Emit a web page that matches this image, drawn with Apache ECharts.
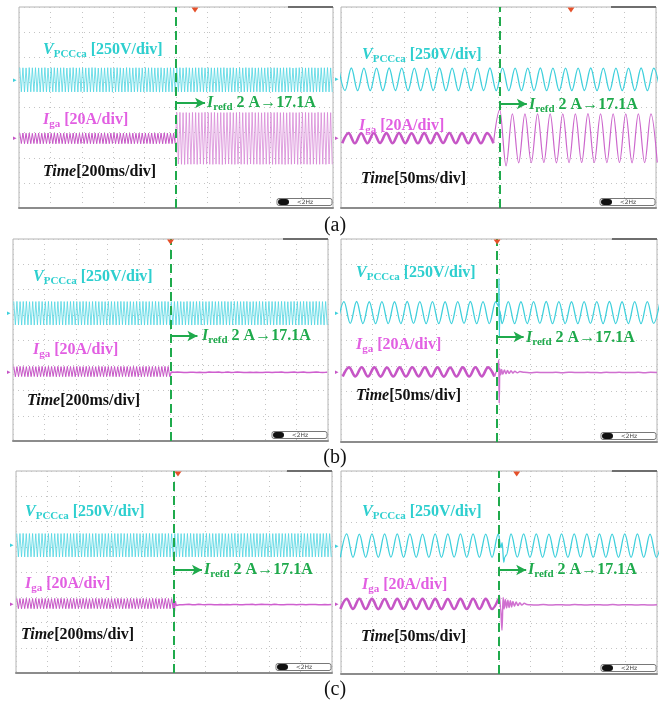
<!DOCTYPE html>
<html><head><meta charset="utf-8">
<script src="https://cdn.jsdelivr.net/npm/echarts@6/dist/echarts.min.js"></script>
<style>html,body{margin:0;padding:0;background:#fff}#c{width:669px;height:702px}</style>
</head><body><div id="c"></div><script>
// ================= DATA =================
// Physical units: voltage in V (250 V/div), current in A (20 A/div), time in ms.
// Waveforms are given as successive extrema (one per half cycle, 10 ms apart).
const panelLetters = ['(a)', '(b)', '(c)'];
const timeBaseLabels = ['[200ms/div]', '[50ms/div]'];
const vLabelParts = ['V', 'PCCca', ' [250V/div]'];
const iLabelParts = ['I', 'ga', ' [20A/div]'];
const refLabelParts = ['I', 'refd', ' 2 A\u219217.1A'];
const stepTimes = [1000, 252, 1000, 247, 1000, 250];   // reference step instant as read in each panel (ms)

// ---- (a) left, 200 ms/div, extrema from t = 5 ms every 10 ms
const aL_V = [
121,-119,120,-121,119,-120,122,-119,120,-118,121,-120,119,-121,120,-119,122,-120,118,-121,
120,-119,121,-120,119,-122,120,-119,121,-120,118,-121,120,-119,122,-120,119,-121,120,-118,
121,-120,119,-121,120,-119,122,-120,121,-119,118,-120,120,-121,119,-120,121,-119,120,-122,
119,-120,121,-119,120,-121,118,-120,122,-119,120,-121,119,-120,121,-118,120,-121,119,-120,
122,-119,120,-120,121,-121,119,-119,120,-122,121,-120,118,-121,120,-119,121,-120,119,-121,
120,-119,121,-121,119,-120,122,-120,120,-119,119,-121,121,-120,120,-118,122,-121,119,-120,
121,-119,120,-122,119,-120,121,-119,120,-121,122,-120,119,-119,120,-121,121,-120,118,-119,
120,-121,119,-120,122,-119,120,-121,121,-120,119,-118,120,-121,121,-119,119,-120,122,-121,
119,-120,121,-119,120,-122,119,-120,121,-121,120,-119,122,-120,118,-121,120,-119,121,-120,
121,-120,119,-121,120,-119,121,-122,120,-119,119,-120,121,-121,120,-119,122,-120,119,-121];
const aL_Ibefore = [
4.2,-4.1,4.3,-4.2,4.1,-4.3,4.2,-4.2,4.0,-4.1,4.3,-4.2,4.2,-4.3,4.1,-4.2,4.2,-4.1,4.3,-4.2,
4.1,-4.2,4.2,-4.3,4.3,-4.1,4.2,-4.2,4.1,-4.3,4.2,-4.1,4.0,-4.2,4.3,-4.2,4.2,-4.3,4.1,-4.1,
4.2,-4.2,4.3,-4.1,4.1,-4.2,4.2,-4.3,4.2,-4.2,4.1,-4.1,4.3,-4.2,4.2,-4.3,4.0,-4.2,4.2,-4.1,
4.3,-4.2,4.1,-4.3,4.2,-4.2,4.2,-4.1,4.3,-4.2,4.1,-4.3,4.2,-4.2,4.1,-4.1,4.2,-4.3,4.3,-4.2,
4.2,-4.1,4.1,-4.2,4.3,-4.3,4.2,-4.2,4.1,-4.1,4.2,-4.3,4.3,-4.2,4.2,-4.1,4.1,-4.2,4.2,-4.2];
const aL_Iafter = [
20.6,-20.4,20.7,-20.6,20.5,-20.8,20.6,-20.5,20.4,-20.6,20.7,-20.5,20.6,-20.7,20.5,-20.4,20.6,-20.6,20.8,-20.5,
20.5,-20.6,20.6,-20.7,20.7,-20.5,20.4,-20.6,20.6,-20.8,20.5,-20.5,20.6,-20.4,20.7,-20.6,20.5,-20.7,20.6,-20.5,
20.7,-20.6,20.5,-20.5,20.6,-20.7,20.6,-20.4,20.8,-20.6,20.5,-20.5,20.6,-20.7,20.4,-20.6,20.7,-20.5,20.6,-20.6,
20.5,-20.7,20.6,-20.6,20.7,-20.5,20.5,-20.6,20.6,-20.8,20.4,-20.5,20.7,-20.6,20.6,-20.4,20.5,-20.7,20.6,-20.6,
20.6,-20.5,20.7,-20.6,20.5,-20.7,20.6,-20.5,20.4,-20.6,20.8,-20.6,20.5,-20.5,20.6,-20.7,20.7,-20.4,20.5,-20.6];

// ---- (a) right, 50 ms/div
const aR_V = [  // from t = -3.6 ms
112,-111,113,-112,111,-113,112,-112,113,-111,112,-112,111,-113,112,-111,113,-112,112,-112,111,-113,112,-111,113,-112,
112,-112,111,-113,112,-111,113,-112,112,-112,111,-113,112,-111,113,-112,112,-112,111,-113,112,-111,113,-112,112,-112];
const aR_Ibefore = [  // from t = 2 ms
-4.0,4.0,-4.1,3.9,-4.0,4.1,-3.9,4.0,-4.0,4.1,-4.0,3.9,-4.1,4.0,-4.0,4.0,-3.9,4.1,-4.0,4.0,-4.1,3.9,-4.0,4.0,-4.0];
const aR_Iafter = [   // from t = 252 ms
22.5,-22.0,19.4,-19.6,19.3,-19.5,19.4,-19.4,19.3,-19.6,19.4,-19.5,19.3,-19.4,19.5,-19.4,19.3,-19.5,19.4,-19.4,19.3,-19.6,19.4,-19.5,19.3,-19.4];

// ---- (b) left, 200 ms/div
const bL_V = [
116,-115,117,-116,115,-117,116,-115,117,-116,114,-116,116,-117,115,-115,117,-116,116,-114,
115,-116,117,-115,116,-117,114,-116,116,-115,117,-116,115,-117,116,-114,116,-116,117,-115,
116,-117,115,-116,117,-115,116,-116,114,-117,116,-115,117,-116,115,-116,116,-117,115,-115,
117,-116,116,-115,115,-117,116,-116,117,-114,116,-116,115,-117,116,-115,114,-116,117,-116,
116,-115,117,-117,115,-116,116,-115,116,-116,117,-117,115,-115,116,-116,117,-114,115,-117,
115,-116,116,-117,117,-115,116,-116,114,-116,117,-115,116,-117,115,-116,116,-115,117,-116,
116,-117,115,-115,116,-116,117,-116,115,-117,116,-114,116,-116,117,-115,115,-117,116,-116,
117,-115,116,-116,115,-117,116,-115,117,-116,114,-116,116,-117,115,-115,117,-116,116,-115,
115,-116,117,-115,116,-117,116,-116,115,-115,117,-116,116,-117,114,-116,116,-115,117,-116,
116,-117,115,-116,117,-115,116,-116,115,-117,116,-115,117,-116,116,-114,115,-117,116,-116];
const bL_Ibefore = [
4.0,-4.1,3.9,-4.0,4.1,-3.9,4.0,-4.0,3.9,-4.1,4.1,-4.0,4.0,-3.9,3.9,-4.1,4.0,-4.0,4.1,-3.9,
3.9,-4.0,4.1,-4.1,4.0,-3.9,4.0,-4.1,4.1,-4.0,3.9,-4.0,4.0,-4.1,4.1,-3.9,4.0,-4.0,3.9,-4.1,
4.1,-4.0,4.0,-3.9,3.9,-4.1,4.1,-4.0,4.0,-4.0,4.0,-4.1,3.9,-4.0,4.1,-3.9,4.0,-4.1,4.0,-4.0,
4.0,-3.9,4.1,-4.0,4.0,-4.1,3.9,-4.0,4.1,-4.0,4.0,-3.9,4.0,-4.1,3.9,-4.0,4.1,-4.0,4.0,-4.1,
3.9,-4.1,4.0,-4.0,4.1,-3.9,4.0,-4.1,4.0,-4.0,4.1,-4.0,3.9,-4.1,4.0,-3.9,4.1,-4.0,4.0,-4.0];
const bL_Iafter = [
-0.4,-0.8,-0.5,-0.7,-0.4,-0.9,-0.6,-0.5,-0.8,-0.4,-0.7,-0.6,-0.5,-0.8,-0.6,-0.4,-0.7,-0.8,-0.5,-0.6,
-0.7,-0.5,-0.8,-0.6,-0.4,-0.7,-0.6,-0.8,-0.5,-0.6,-0.4,-0.8,-0.7,-0.5,-0.6,-0.8,-0.4,-0.6,-0.7,-0.5,
-0.6,-0.8,-0.4,-0.7,-0.5,-0.6,-0.8,-0.5,-0.7,-0.4,-0.6,-0.7,-0.8,-0.5,-0.6,-0.4,-0.7,-0.6,-0.8,-0.5,
-0.5,-0.7,-0.6,-0.4,-0.8,-0.6,-0.5,-0.7,-0.6,-0.8,-0.4,-0.6,-0.7,-0.5,-0.8,-0.6,-0.5,-0.7,-0.4,-0.6,
-0.8,-0.5,-0.6,-0.7,-0.4,-0.6,-0.8,-0.5,-0.7,-0.6,-0.5,-0.8,-0.4,-0.7,-0.6,-0.5,-0.7,-0.8,-0.6,-0.5];

// ---- (b) right, 50 ms/div
const bR_V = [  // from t = -5.3 ms
-108,108,-107,109,-108,107,-109,108,-108,107,-108,109,-107,108,-108,108,-109,107,-108,108,-107,109,-108,108,-108,107,
-108,108,-109,107,-108,108,-107,109,-108,108,-108,107,-109,108,-107,108,-108,109,-108,107,-108,108,-109,108,-107,108];
const bR_Vspike = [[249.6, 60], [250.0, 338], [250.5, -240], [251.2, 20]];
const bR_Ibefore = [  // from t = 2.7 ms
-3.6,3.6,-3.5,3.7,-3.6,3.6,-3.7,3.5,-3.6,3.6,-3.6,3.7,-3.5,3.6,-3.6,3.6,-3.7,3.5,-3.6,3.6,-3.6,3.7,-3.5,3.6,-3.6];
const bR_Itrans = [[247, 0.5], [249.8, 9.4], [250.3, -24.6], [251.2, 2.5], [252.6, -2.2], [254.2, 2.0], [256, -1.8],
  [258.5, 1.6], [261, -1.4], [263.5, 1.2], [266, -1.1], [269, 0.9], [272, -0.9], [275, 0.6], [279, -0.7], [283, 0.3]];
const bR_Iafter = [  // from t = 290 ms
-0.3,-0.6,-0.2,-0.5,-0.4,-0.3,-0.6,-0.2,-0.4,-0.5,-0.3,-0.4,-0.6,-0.2,-0.5,-0.3,-0.4,-0.5,-0.3,-0.6,-0.2,-0.4];

// ---- (c) left, 200 ms/div
const cL_V = [
115,-116,116,-115,117,-116,115,-117,116,-115,116,-116,114,-116,117,-115,116,-117,115,-116,
116,-115,117,-116,115,-116,116,-117,115,-115,117,-116,116,-114,115,-117,116,-116,117,-115,
117,-116,115,-115,116,-117,116,-116,115,-116,117,-115,114,-116,116,-117,115,-115,116,-116,
116,-115,116,-117,115,-116,117,-115,116,-116,115,-117,116,-115,117,-116,116,-114,115,-116,
115,-117,116,-116,117,-115,116,-116,115,-117,116,-115,117,-116,115,-116,116,-117,114,-115,
116,-116,117,-115,115,-116,116,-117,116,-115,117,-116,115,-116,116,-117,115,-115,117,-116,
117,-115,116,-116,116,-117,115,-115,117,-116,116,-116,115,-117,114,-116,116,-115,117,-116,
115,-116,116,-117,117,-115,116,-116,115,-116,117,-117,116,-115,115,-116,116,-116,117,-115,
116,-117,115,-116,116,-115,117,-116,116,-117,115,-115,116,-116,117,-114,115,-117,116,-116,
117,-116,116,-115,115,-116,116,-117,117,-115,116,-116,115,-117,116,-115,117,-116,115,-116];
const cL_Ibefore = [
4.1,-4.0,4.0,-4.1,3.9,-4.0,4.1,-3.9,4.0,-4.0,4.0,-4.1,4.1,-4.0,3.9,-3.9,4.0,-4.1,4.0,-4.0,
4.0,-3.9,3.9,-4.1,4.1,-4.0,4.0,-4.0,4.1,-3.9,4.0,-4.1,3.9,-4.0,4.0,-4.0,4.1,-4.1,3.9,-4.0,
3.9,-4.0,4.1,-4.0,4.0,-4.1,3.9,-4.0,4.0,-3.9,4.1,-4.0,4.0,-4.1,4.0,-4.0,3.9,-4.0,4.1,-4.1,
4.0,-4.1,4.0,-3.9,4.1,-4.0,4.0,-4.1,3.9,-4.0,4.0,-4.0,4.1,-3.9,4.0,-4.1,4.0,-4.0,3.9,-4.0,
4.1,-4.0,3.9,-4.1,4.0,-4.0,4.1,-4.0,4.0,-3.9,3.9,-4.1,4.0,-4.0,4.1,-4.0,4.0,-4.1,3.9,-4.0];
const cL_Itrans = [[1000.5, 5.0], [1003, -6.0], [1008, 2.0], [1014, -1.5]];
const cL_Iafter = [
-0.6,-1.0,-0.7,-0.9,-0.6,-1.0,-0.8,-0.7,-0.9,-0.6,-0.8,-0.9,-0.7,-1.0,-0.8,-0.6,-0.9,-0.8,-0.7,-0.9,
-0.8,-0.7,-1.0,-0.8,-0.6,-0.9,-0.8,-1.0,-0.7,-0.8,-0.6,-0.9,-0.9,-0.7,-0.8,-1.0,-0.6,-0.8,-0.9,-0.7,
-0.8,-1.0,-0.6,-0.9,-0.7,-0.8,-1.0,-0.7,-0.9,-0.6,-0.8,-0.9,-1.0,-0.7,-0.8,-0.6,-0.9,-0.8,-1.0,-0.7,
-0.7,-0.9,-0.8,-0.6,-1.0,-0.8,-0.7,-0.9,-0.8,-1.0,-0.6,-0.8,-0.9,-0.7,-1.0,-0.8,-0.7,-0.9,-0.6,-0.8,
-1.0,-0.7,-0.8,-0.9,-0.6,-0.8,-1.0,-0.7,-0.9,-0.8,-0.7,-1.0,-0.6,-0.9,-0.8,-0.7,-0.9,-1.0,-0.8,-0.7];

// ---- (c) right, 50 ms/div
const cR_V = [  // from t = -1 ms
-115,115,-116,114,-115,116,-115,115,-114,116,-115,115,-116,114,-115,116,-116,115,-114,116,-115,115,-116,114,-115,116,
-115,115,-114,116,-115,115,-116,114,-115,115,-116,115,-114,116,-115,115,-116,114,-115,116,-115,115,-116,114,-115,115];
const cR_Vtrans = [[253, -20], [255, 30], [257.5, -165], [261.5, -95]];
const cR_Ibefore = [  // from t = -1 ms
-4.0,4.0,-3.9,4.1,-4.0,4.0,-4.1,3.9,-4.0,4.0,-4.0,4.1,-3.9,4.0,-4.0,4.0,-4.1,3.9,-4.0,4.0,-4.0,4.1,-3.9,4.0,-4.0,4.0];
const cR_Itrans = [[250.5, 6.9], [252.5, -3], [254.7, -20.8], [256.5, 5], [258, -4], [260, 3.5], [262, -3.2], [264, 3],
  [266, -2.8], [268, 2.5], [270, -2.3], [272, 2], [274.5, -1.8], [277, 1.5], [280, -1.3], [283, 1.0], [286, -0.8], [290, 0.5], [294, -0.5]];
const cR_Iafter = [  // from t = 300 ms
-0.6,-0.9,-0.5,-0.8,-0.7,-0.6,-0.9,-0.5,-0.7,-0.8,-0.6,-0.7,-0.9,-0.5,-0.8,-0.6,-0.7,-0.8,-0.6,-0.9,-0.7];

// Trigger-marker times (red triangles on top edge)
const trigTimes = [1121, 365, 1000, 247, 1025, 278];

// ================= LAYOUT / STYLE =================
const FONT = "'Liberation Serif','Times New Roman',serif";
const CY_LINE = '#3fd0dc', CY_DENSE = '#4fd6e2', CY_TEXT = '#2ecfcf';
const MG_LINE = '#c656c6', MG_TEXT = '#e25fe2';
const GREEN = '#1faa4c';
const VDIV = 250, IDIV = 20;

function trace(t0, dt, vals, extra) {
  const pts = vals.map((v, i) => [+(t0 + i * dt).toFixed(2), v]);
  (extra || []).forEach(p => pts.push(p));
  pts.sort((a, b) => a[0] - b[0]);
  return pts;
}
function joinAfter(before, after) { return [before[before.length - 1]].concat(after); }

const aLb = trace(5, 10, aL_Ibefore), bLb = trace(5, 10, bL_Ibefore), cLb = trace(5, 10, cL_Ibefore);
const aRb = trace(2, 10, aR_Ibefore), bRb = trace(2.7, 10, bR_Ibefore), cRb = trace(-1, 10, cR_Ibefore);

const panels = [
  {left:19, top:7, width:314, height:201, span:2000, tb:0, vOff:1.10, iOff:-1.23,
   V: trace(5, 10, aL_V), Ib: aLb, Ia: joinAfter(aLb, trace(1005, 10, aL_Iafter)), dense:true, iaColor:'#d684d6', iaWidth:0.75,
   vLab:[43,55], iLab:[43,125], tLab:[43,177], rLab:[207,108], arrowY:0.18, arrowLen:185},
  {left:341, top:7, width:315, height:201, span:500, tb:1, vOff:1.12, iOff:-1.22,
   V: trace(-3.6, 10, aR_V), Ib: aRb, Ia: joinAfter(aRb, trace(252, 10, aR_Iafter)), dense:false, iaColor:'#cc66cc', iaWidth:1.2,
   vLab:[362,60], iLab:[359,131], tLab:[361,184], rLab:[529,110], arrowY:0.14, arrowLen:43},
  {left:13, top:239, width:315, height:202, span:2000, tb:0, vOff:1.06, iOff:-1.25,
   V: trace(5, 10, bL_V), Ib: bLb, Ia: joinAfter(bLb, trace(1005, 10, bL_Iafter)), dense:true, iaColor:'#cf5fcf', iaWidth:1.5,
   vLab:[33,282], iLab:[33,355], tLab:[27,406], rLab:[202,341], arrowY:0.16, arrowLen:171},
  {left:341, top:239, width:316, height:203, span:500, tb:1, vOff:1.10, iOff:-1.24,
   V: trace(-5.3, 10, bR_V, bR_Vspike), Ib: bRb, Ia: joinAfter(bRb, trace(290, 10, bR_Iafter, bR_Itrans)), dense:false, iaColor:'#d070d0', iaWidth:1.5,
   vLab:[356,278], iLab:[356,350], tLab:[356,401], rLab:[526,343], arrowY:0.14, arrowLen:42},
  {left:16, top:471, width:316, height:202, span:2000, tb:0, vOff:1.06, iOff:-1.25,
   V: trace(5, 10, cL_V), Ib: cLb, Ia: joinAfter(cLb, trace(1005, 10, cL_Iafter, cL_Itrans)), dense:true, iaColor:'#cf5fcf', iaWidth:1.5,
   vLab:[25,517], iLab:[25,589], tLab:[21,640], rLab:[204,575], arrowY:0.08, arrowLen:177},
  {left:341, top:471, width:316, height:203, span:500, tb:1, vOff:1.06, iOff:-1.24,
   V: trace(-1, 10, cR_V, cR_Vtrans), Ib: cRb, Ia: joinAfter(cRb, trace(300, 10, cR_Iafter, cR_Itrans)), dense:false, iaColor:'#d070d0', iaWidth:1.5,
   vLab:[362,517], iLab:[362,590], tLab:[361,642], rLab:[528,575], arrowY:0.10, arrowLen:43}
];

const grids = [], xAxes = [], yAxes = [], series = [], graphics = [];
const dotted = {show:true, lineStyle:{color:'#c4c4c4', width:1, type:[1, 4]}};

function richLabel(parts, color) {
  return {
    text: '{i|' + parts[0] + '}{s|' + parts[1] + '}{b|' + parts[2] + '}',
    rich: {
      i: {fontFamily:FONT, fontStyle:'italic', fontWeight:'bold', fontSize:16, lineHeight:20, fill:color, color:color},
      s: {fontFamily:FONT, fontWeight:'bold', fontSize:11, lineHeight:12, verticalAlign:'bottom', fill:color, color:color},
      b: {fontFamily:FONT, fontWeight:'bold', fontSize:16, lineHeight:20, fill:color, color:color}
    }
  };
}
function addText(pos, parts, color) {
  const r = richLabel(parts, color);
  graphics.push({type:'text', x:pos[0], y:pos[1] - 15.5, z:20, silent:true,
    style:{text:r.text, rich:r.rich, align:'left', verticalAlign:'top'}});
}

panels.forEach((p, k) => {
  grids.push({left:p.left, top:p.top, width:p.width, height:p.height, show:true,
    borderColor:'#b4b4b4', borderWidth:1, backgroundColor:'#fff'});
  xAxes.push({type:'value', gridIndex:k, min:0, max:p.span, interval:p.span / 10,
    axisLine:{show:true, onZero:false, lineStyle:{color:'#8c8c8c', width:2}},
    axisTick:{show:false}, axisLabel:{show:false}, splitLine:dotted});
  yAxes.push({type:'value', gridIndex:k, min:-4, max:4, interval:1,
    axisLine:{show:false}, axisTick:{show:false}, axisLabel:{show:false}, splitLine:dotted});
  yAxes.push({type:'value', gridIndex:k, min:(-4 - p.vOff) * VDIV, max:(4 - p.vOff) * VDIV, show:false, splitLine:{show:false}});
  yAxes.push({type:'value', gridIndex:k, min:(-4 - p.iOff) * IDIV, max:(4 - p.iOff) * IDIV, show:false, splitLine:{show:false}});
  const sm = p.dense ? {smooth:false} : {smooth:0.36, smoothMonotone:'x'};
  const base = {type:'line', xAxisIndex:k, symbol:'none', showSymbol:false, silent:true, clip:true, animation:false};
  series.push(Object.assign({}, base, sm, {yAxisIndex:3 * k + 1, data:p.V, z:3,
    lineStyle:{color:p.dense ? CY_DENSE : CY_LINE, width:p.dense ? 0.8 : 1.3}}));
  series.push(Object.assign({}, base, sm, {yAxisIndex:3 * k + 2, data:p.Ib, z:3,
    lineStyle:{color:MG_LINE, width:p.dense ? 1 : 2.6}}));
  series.push(Object.assign({}, base, sm,
    {yAxisIndex:3 * k + 2, data:p.Ia, z:3, lineStyle:{color:p.iaColor, width:p.iaWidth}}));
  const st = stepTimes[k];
  series.push(Object.assign({}, base, {yAxisIndex:3 * k, data:[], z:6,
    markLine:{silent:true, animation:false, symbol:'none', label:{show:false},
      data:[
        {xAxis:st, lineStyle:{color:GREEN, width:2, type:[9, 5]}},
        [{coord:[st, p.arrowY], symbol:'none'},
         {coord:[st + p.arrowLen, p.arrowY], symbol:'arrow', symbolSize:[8, 10]}]
      ],
      lineStyle:{color:GREEN, width:2, type:'solid'}},
    markPoint:{silent:true, animation:false, label:{show:false},
      data:[{coord:[trigTimes[k], 4], symbol:'triangle', symbolRotate:180, symbolSize:[7, 5], symbolOffset:[0, 3],
        itemStyle:{color:'#e5502a'}}]}
  }));
  // text annotations
  addText(p.vLab, vLabelParts, CY_TEXT);
  addText(p.iLab, iLabelParts, MG_TEXT);
  addText(p.rLab, refLabelParts, GREEN);
  graphics.push({type:'text', x:p.tLab[0], y:p.tLab[1] - 15.5, z:20, silent:true,
    style:{text:'{i|Time}{b|' + timeBaseLabels[p.tb] + '}', align:'left', verticalAlign:'top',
      rich:{i:{fontFamily:FONT, fontStyle:'italic', fontWeight:'bold', fontSize:16, lineHeight:20, fill:'#111', color:'#111'},
            b:{fontFamily:FONT, fontWeight:'bold', fontSize:16, lineHeight:20, fill:'#111', color:'#111'}}}});
  // scope decorations: memory bar, status box, channel markers
  const R = p.left + p.width, B = p.top + p.height;
  graphics.push({type:'rect', silent:true, z:15, shape:{x:R - 45, y:p.top - 1, width:45, height:2}, style:{fill:'#6e6e6e'}});
  graphics.push({type:'rect', silent:true, z:15, shape:{x:R - 56, y:B - 9.5, width:55, height:7, r:2},
    style:{fill:'#fff', stroke:'#555', lineWidth:0.8}});
  graphics.push({type:'rect', silent:true, z:16, shape:{x:R - 55, y:B - 9, width:11, height:6, r:3}, style:{fill:'#111'}});
  graphics.push({type:'text', silent:true, z:17, x:R - 28, y:B - 6,
    style:{text:'<2Hz', fontSize:6, fontFamily:'DejaVu Sans', fill:'#444', align:'center', verticalAlign:'middle'}});
  const vy = p.top + p.height / 2 - p.vOff * p.height / 8;
  const iy = p.top + p.height / 2 - p.iOff * p.height / 8;
  graphics.push({type:'text', silent:true, z:17, x:p.left - 4, y:vy,
    style:{text:'\u25B8', fontSize:7, fill:CY_LINE, align:'center', verticalAlign:'middle'}});
  graphics.push({type:'text', silent:true, z:17, x:p.left - 4, y:iy,
    style:{text:'\u25B8', fontSize:7, fill:MG_LINE, align:'center', verticalAlign:'middle'}});
});

[226, 458, 690].forEach((y, i) => {
  graphics.push({type:'text', silent:true, z:20, x:335, y:y,
    style:{text:panelLetters[i], fontFamily:FONT, fontSize:20, fill:'#111', align:'center', verticalAlign:'middle'}});
});

const chart = echarts.init(document.getElementById('c'), null, {renderer:'canvas'});
chart.setOption({
  animation:false, backgroundColor:'#fff',
  grid:grids, xAxis:xAxes, yAxis:yAxes, series:series, graphic:graphics
});
</script></body></html>
